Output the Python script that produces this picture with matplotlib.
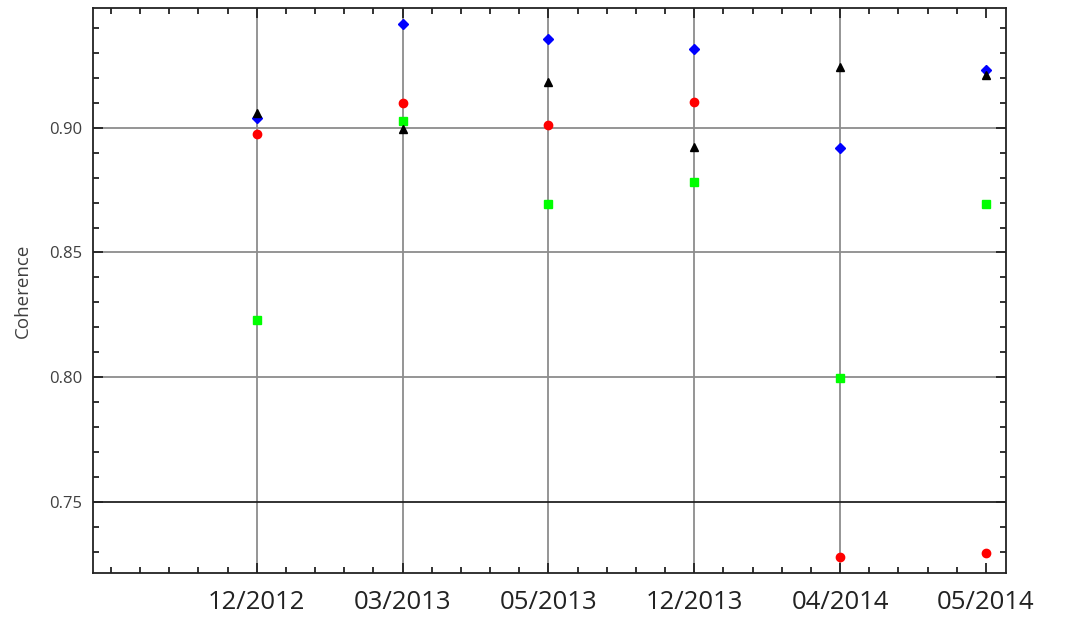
import matplotlib
matplotlib.use('Agg')
import matplotlib.pyplot as plt
from matplotlib.ticker import MultipleLocator

plt.rcParams['font.family'] = ['Open Sans', 'DejaVu Sans']

dates = ['12/2012', '03/2013', '05/2013', '12/2013', '04/2014', '05/2014']
blue_vals = [0.904, 0.9417, 0.9357, 0.9317, 0.892, 0.9233]
black_vals = [0.906, 0.8995, 0.9184, 0.8924, 0.9245, 0.921]
red_vals = [0.8976, 0.910, 0.9012, 0.9104, 0.728, 0.7295]
green_vals = [0.823, 0.9028, 0.8695, 0.8783, 0.7998, 0.8695]

x = list(range(1, len(dates) + 1))

fig = plt.figure(figsize=(10.72, 6.18), dpi=100)
ax = fig.add_axes([0.0868, 0.0728, 0.8516, 0.9142])

# grid lines (vertical only for first five dates)
for xi in x[:-1]:
    ax.axvline(xi, color='#8c8c8c', lw=1.3, zorder=1)
for yv in [0.80, 0.85, 0.90]:
    ax.axhline(yv, color='#8c8c8c', lw=1.3, zorder=1)
ax.axhline(0.75, color='#222222', lw=1.3, zorder=1)

ax.plot(x, green_vals, 's', color='#00ff00', markersize=5.5, zorder=3)
ax.plot(x, red_vals, 'o', color='#ff0000', markersize=6, zorder=3)
ax.plot(x, blue_vals, 'D', color='#0000ff', markersize=5.5, zorder=3)
ax.plot(x, black_vals, '^', color='black', markersize=6, zorder=4)

ax.set_xlim(-0.123, 6.137)
ax.set_ylim(0.7215, 0.948)

ax.set_xticks(x)
ax.set_xticklabels(dates, fontsize=18.5, color='#222222')
ax.xaxis.set_minor_locator(MultipleLocator(0.2))
ax.set_yticks([0.75, 0.80, 0.85, 0.90])
ax.set_yticklabels(['0.75', '0.80', '0.85', '0.90'], fontsize=12, color='#404040')
ax.yaxis.set_minor_locator(MultipleLocator(0.01))

ax.tick_params(axis='both', which='both', direction='in', top=True, right=True, width=1.3, color='#222222')
ax.tick_params(axis='both', which='major', length=7)
ax.tick_params(axis='both', which='minor', length=4)
ax.tick_params(axis='x', which='major', pad=12)
ax.tick_params(axis='y', which='major', pad=8)

ax.set_ylabel('Coherence', fontsize=13.5, color='#404040', labelpad=12)

for sp in ax.spines.values():
    sp.set_linewidth(1.3)
    sp.set_color('#222222')

plt.savefig('out.png', dpi=100)
plt.close()
